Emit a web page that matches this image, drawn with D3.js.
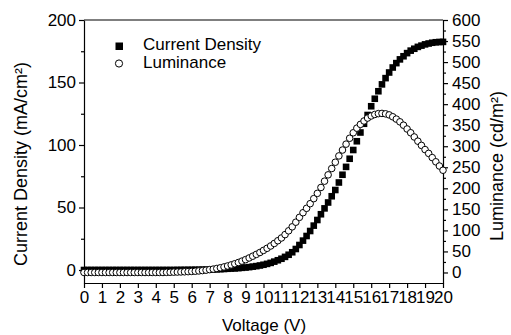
<!DOCTYPE html>
<html>
<head>
<meta charset="utf-8">
<script src="https://cdn.jsdelivr.net/npm/d3@7"></script>
<style>
  body { margin: 0; background: #fff; }
  svg { display: block; font-family: "Liberation Sans", Arial, sans-serif; }
  .axis path, .axis line { stroke: #000; stroke-width: 1.2; }
  .axis text { font-size: 17px; fill: #000; }
</style>
</head>
<body>
<svg width="511" height="335"></svg>
<script>
// sweep voltage (V)
const voltage = [
  0, 0.2, 0.4, 0.6, 0.8, 1, 1.2, 1.4, 1.6, 1.8, 2, 2.2, 2.4, 2.6, 2.8, 3, 3.2, 3.4, 3.6, 3.8,
  4, 4.2, 4.4, 4.6, 4.8, 5, 5.2, 5.4, 5.6, 5.8, 6, 6.2, 6.4, 6.6, 6.8, 7, 7.2, 7.4, 7.6, 7.8,
  8, 8.2, 8.4, 8.6, 8.8, 9, 9.2, 9.4, 9.6, 9.8, 10, 10.2, 10.4, 10.6, 10.8, 11, 11.2, 11.4, 11.6, 11.8,
  12, 12.2, 12.4, 12.6, 12.8, 13, 13.2, 13.4, 13.6, 13.8, 14, 14.2, 14.4, 14.6, 14.8, 15, 15.2, 15.4, 15.6, 15.8,
  16, 16.2, 16.4, 16.6, 16.8, 17, 17.2, 17.4, 17.6, 17.8, 18, 18.2, 18.4, 18.6, 18.8, 19, 19.2, 19.4, 19.6, 19.8, 20
];

// mA/cm2
const currentDensity = [
  0, 0, 0, 0, 0, 0, 0, 0, 0, 0, 0, 0, 0, 0, 0, 0, 0, 0, 0, 0, 0, 0, 0, 0, 0, 0,
  0.05, 0.08, 0.1, 0.12, 0.15,
  0.18, 0.22, 0.27, 0.32, 0.4,
  0.48, 0.57, 0.68, 0.82, 1.0,
  1.15, 1.3, 1.5, 1.75, 2.0,
  2.3, 2.7, 3.1, 3.6, 4.2,
  4.9, 5.7, 6.7, 7.8, 9.0,
  10.5, 12.2, 14.2, 16.8, 20,
  23.5, 27.2, 31.2, 35.5, 40,
  44.6, 49.3, 54, 59, 64,
  70, 76.2, 82.5, 89, 96,
  103, 110, 117, 124, 131,
  137, 143, 148.5, 153.5, 158,
  162, 165.5, 168.5, 171, 173.5,
  175.5, 177, 178.5, 179.5, 180.5,
  181.2, 181.8, 182.2, 182.4, 182.5
];

// cd/m2
const luminance = [
  0, 0, 0, 0, 0, 0, 0, 0, 0, 0, 0, 0, 0, 0, 0, 0, 0, 0, 0, 0, 0, 0, 0,
  0.3, 0.5, 0.8,
  1.0, 1.3, 1.6, 2.0, 2.5,
  3.0, 3.7, 4.5, 5.5, 6.8,
  8.0, 9.5, 11.2, 13.2, 15.5,
  18, 20.7, 23.7, 27, 30.5,
  34.5, 38.7, 43, 47.5, 52.5,
  57.5, 63, 69, 75.5, 82,
  90, 99, 108.5, 119.5, 131,
  142, 152.5, 163.5, 175.5, 188,
  202, 217, 232, 247, 262,
  277, 291, 305, 319, 332,
  343, 352, 360, 367, 372,
  375.5, 377.5, 378, 377, 374.5,
  370, 364.5, 358, 350, 341,
  332, 322, 312, 302, 292,
  283, 273, 263, 253, 243
];

const xTicks = d3.range(0, 21);
const leftTicks = [0, 50, 100, 150, 200];
const rightTicks = [0, 50, 100, 150, 200, 250, 300, 350, 400, 450, 500, 550, 600];

const svg = d3.select("svg");
const plotLeft = 84, plotRight = 443, plotTop = 20, plotBottom = 283;

const x = d3.scaleLinear().domain([0, 20]).range([plotLeft, plotRight]);
const yL = d3.scaleLinear().domain([-10.4, 200]).range([plotBottom, plotTop]);
const yR = d3.scaleLinear().domain([-25, 600]).range([plotBottom, plotTop]);

// minor ticks first so the major ones sit on top
svg.append("g").attr("class", "axis")
  .attr("transform", "translate(" + plotLeft + ",0)")
  .call(d3.axisLeft(yL).tickValues([25, 75, 125, 175]).tickSize(3).tickFormat(""))
  .select(".domain").remove();
svg.append("g").attr("class", "axis")
  .attr("transform", "translate(" + plotRight + ",0)")
  .call(d3.axisRight(yR).tickValues(d3.range(25, 600, 50)).tickSize(3).tickFormat(""))
  .select(".domain").remove();

svg.append("g").attr("class", "axis")
  .attr("transform", "translate(" + plotLeft + ",0)")
  .call(d3.axisLeft(yL).tickValues(leftTicks).tickSize(5).tickSizeOuter(0).tickPadding(3));

svg.append("g").attr("class", "axis")
  .attr("transform", "translate(" + plotRight + ",0)")
  .call(d3.axisRight(yR).tickValues(rightTicks).tickSize(5).tickSizeOuter(0).tickPadding(4));

svg.append("g").attr("class", "axis")
  .attr("transform", "translate(0," + plotBottom + ")")
  .call(d3.axisBottom(x).tickValues(xTicks).tickSize(5).tickSizeOuter(0).tickPadding(3));

// top frame line
svg.append("line")
  .attr("x1", plotLeft).attr("x2", plotRight)
  .attr("y1", plotTop).attr("y2", plotTop)
  .attr("stroke", "#000").attr("stroke-width", 1.2);

// current density: filled squares
svg.append("g")
  .selectAll("rect")
  .data(voltage)
  .join("rect")
    .attr("x", d => x(d) - 3.3)
    .attr("y", (d, i) => yL(currentDensity[i]) - 3.3)
    .attr("width", 6.6)
    .attr("height", 6.6)
    .attr("fill", "#000");

// luminance: open circles
svg.append("g")
  .selectAll("circle")
  .data(voltage)
  .join("circle")
    .attr("cx", d => x(d))
    .attr("cy", (d, i) => yR(luminance[i]))
    .attr("r", 3.3)
    .attr("fill", "#fff")
    .attr("stroke", "#000")
    .attr("stroke-width", 1);

// legend
const legend = svg.append("g");
legend.append("rect")
  .attr("x", 115.5).attr("y", 42.5).attr("width", 7.5).attr("height", 7.5)
  .attr("fill", "#000");
legend.append("text")
  .attr("x", 143).attr("y", 50)
  .attr("font-size", 17)
  .text("Current Density");
legend.append("circle")
  .attr("cx", 119).attr("cy", 63.5).attr("r", 3.6)
  .attr("fill", "#fff").attr("stroke", "#000");
legend.append("text")
  .attr("x", 143).attr("y", 68)
  .attr("font-size", 17)
  .text("Luminance");

// axis titles
svg.append("text")
  .attr("x", 264).attr("y", 331)
  .attr("text-anchor", "middle")
  .attr("font-size", 17)
  .text("Voltage (V)");

svg.append("text")
  .attr("transform", "translate(27,164) rotate(-90)")
  .attr("text-anchor", "middle")
  .attr("font-size", 18)
  .text("Current Density (mA/cm²)");

svg.append("text")
  .attr("transform", "translate(503,166) rotate(-90)")
  .attr("text-anchor", "middle")
  .attr("font-size", 18)
  .text("Luminance (cd/m²)");
</script>
</body>
</html>
